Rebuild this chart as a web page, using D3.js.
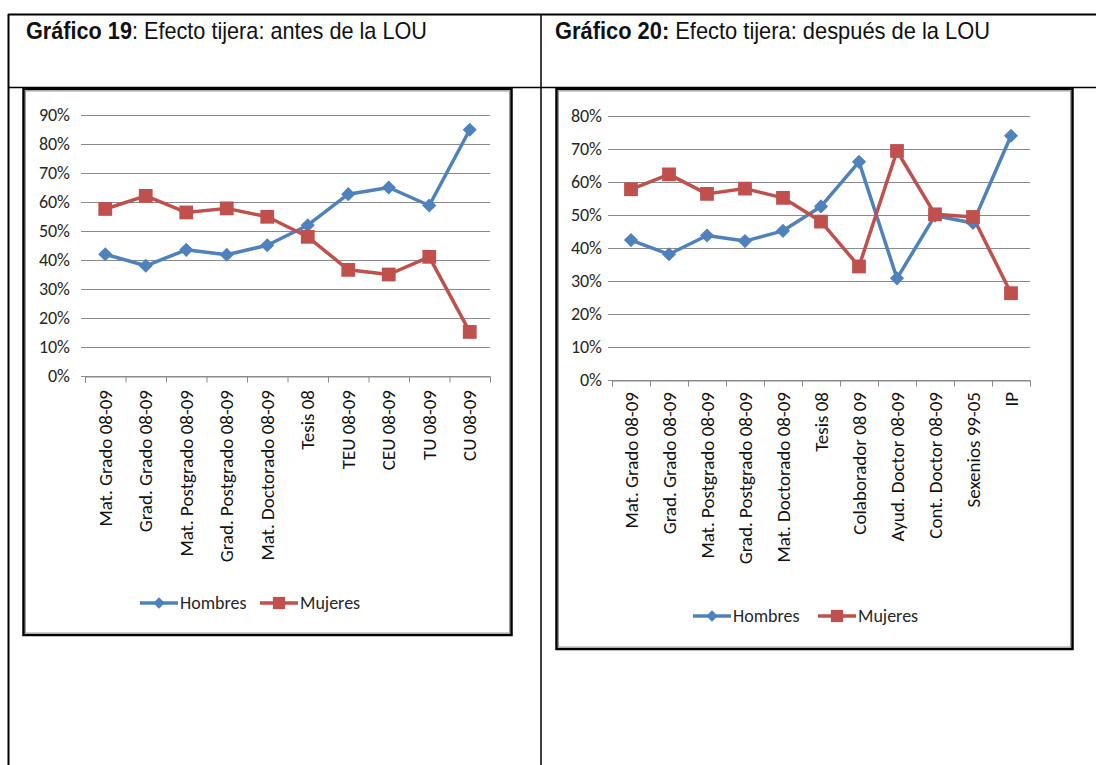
<!DOCTYPE html>
<html>
<head>
    <meta charset="utf-8">

    <!-- Load d3.js -->
    <script src="https://d3js.org/d3.v7.min.js"></script>

    <style>
        body{
            margin: 0;
            background: #fff;
        }
        .ctext{
            font-family: Carlito, Lato, "Open Sans", sans-serif;
            fill: #262626;
        }
        .title{
            font-family: "Liberation Sans Narrow", "Arial Narrow", "Liberation Sans", Arial, sans-serif;
            font-size: 24px;
            fill: #111;
        }
    </style>
</head>
<body>
<div id="my_dataviz"></div>
<script>

// Grafico 19: antes de la LOU
var cats19 = ["Mat. Grado 08-09", "Grad. Grado 08-09", "Mat. Postgrado 08-09", "Grad. Postgrado 08-09",
              "Mat. Doctorado 08-09", "Tesis 08", "TEU 08-09", "CEU 08-09", "TU 08-09", "CU 08-09"]
var hombres19 = [42.0, 38.0, 43.5, 41.8, 45.1, 52.0, 62.7, 65.0, 58.8, 84.9]
var mujeres19 = [57.6, 62.1, 56.4, 57.8, 54.9, 48.0, 36.6, 35.0, 41.1, 15.2]
var yTicks19 = [0, 10, 20, 30, 40, 50, 60, 70, 80, 90]

// Grafico 20: despues de la LOU
var cats20 = ["Mat. Grado 08-09", "Grad. Grado 08-09", "Mat. Postgrado 08-09", "Grad. Postgrado 08-09",
              "Mat. Doctorado 08-09", "Tesis 08", "Colaborador 08 09", "Ayud. Doctor 08-09",
              "Cont. Doctor 08-09", "Sexenios 99-05", "IP"]
var hombres20 = [42.4, 38.1, 43.8, 42.1, 45.2, 52.6, 66.1, 30.8, 49.8, 47.6, 74.0]
var mujeres20 = [57.8, 62.3, 56.4, 58.0, 55.2, 48.0, 34.4, 69.4, 50.2, 49.4, 26.3]
var yTicks20 = [0, 10, 20, 30, 40, 50, 60, 70, 80]

var seriesNames = ["Hombres", "Mujeres"]

var blue = "#4f81bd"
var red = "#c0504d"

var svg = d3.select("#my_dataviz")
    .append("svg")
    .attr("width", 1096)
    .attr("height", 765)

svg.append("rect").attr("width", 1096).attr("height", 765).attr("fill", "#fff")

// table frame of the document
var tbl = svg.append("g").attr("stroke", "#000")
tbl.append("line").attr("x1", 8).attr("x2", 1096).attr("y1", 14.5).attr("y2", 14.5).attr("stroke-width", 2)
tbl.append("line").attr("x1", 8.5).attr("x2", 8.5).attr("y1", 14).attr("y2", 765).attr("stroke-width", 2)
tbl.append("line").attr("x1", 541).attr("x2", 541).attr("y1", 14).attr("y2", 765).attr("stroke-width", 1.5)
tbl.append("line").attr("x1", 8).attr("x2", 1096).attr("y1", 87.5).attr("y2", 87.5).attr("stroke-width", 1.5)

// titles
function title(x, y, bold, rest, len) {
    var t = svg.append("text").attr("class", "title").attr("x", x).attr("y", y)
        .attr("textLength", len).attr("lengthAdjust", "spacingAndGlyphs")
    t.append("tspan").attr("font-weight", "bold").text(bold)
    t.append("tspan").text(rest)
}
title(26, 39, "Gráfico 19", ": Efecto tijera: antes de la LOU", 401)
title(555, 39, "Gráfico 20:", " Efecto tijera: después de la LOU", 435)

function drawChart(cfg) {
    var g = svg.append("g")

    // chart box (black frame with grey inner edge)
    g.append("rect").attr("x", cfg.box[0]).attr("y", cfg.box[1]).attr("width", cfg.box[2]).attr("height", cfg.box[3])
        .attr("fill", "#fff").attr("stroke", "#000").attr("stroke-width", 2.5)
    g.append("rect").attr("x", cfg.box[0] + 2).attr("y", cfg.box[1] + 2).attr("width", cfg.box[2] - 4).attr("height", cfg.box[3] - 4)
        .attr("fill", "none").attr("stroke", "#9a9a9a").attr("stroke-width", 1)

    var x = d3.scaleBand().domain(cfg.cats).range([cfg.left, cfg.right])
    var y = d3.scaleLinear().domain([0, d3.max(cfg.yTicks)]).range([cfg.bottom, cfg.top])

    // gridlines
    g.selectAll("grid").data(cfg.yTicks).enter().append("line")
        .attr("x1", cfg.left - 4).attr("x2", cfg.right)
        .attr("y1", function(d){ return Math.round(y(d)) + 0.5 })
        .attr("y2", function(d){ return Math.round(y(d)) + 0.5 })
        .attr("stroke", "#8a8a8a").attr("stroke-width", 1)

    // y labels
    g.selectAll("ylab").data(cfg.yTicks).enter().append("text")
        .attr("class", "ctext")
        .attr("x", cfg.left - cfg.labGap)
        .attr("y", function(d){ return y(d) })
        .attr("dy", "0.35em")
        .attr("text-anchor", "end")
        .style("font-size", "18px")
        .text(function(d){ return d + "%" })

    // x axis with ticks between categories
    var xi = d3.scaleLinear().domain([0, cfg.cats.length]).range([cfg.left, cfg.right])
    var ax = g.append("g")
        .attr("transform", "translate(0," + (Math.round(y(0)) + 0.5) + ")")
        .call(d3.axisBottom(xi).tickValues(d3.range(cfg.cats.length + 1)).tickFormat("").tickSize(6).tickSizeOuter(6))
    ax.selectAll("path, line").attr("stroke", "#8a8a8a")

    // category labels, rotated
    g.selectAll("xlab").data(cfg.cats).enter().append("text")
        .attr("class", "ctext")
        .attr("transform", function(d){ return "translate(" + (x(d) + x.bandwidth() / 2) + "," + (y(0) + cfg.xlabOff) + ") rotate(-90)" })
        .attr("dy", "0.35em")
        .attr("text-anchor", "end")
        .style("font-size", "19px")
        .style("fill", "#111")
        .text(function(d){ return d })

    var line = d3.line()
        .x(function(d, i){ return x(cfg.cats[i]) + x.bandwidth() / 2 })
        .y(function(d){ return y(d) })

    var series = [
        {name: seriesNames[0], values: cfg.hombres, color: blue, sym: "diamond"},
        {name: seriesNames[1], values: cfg.mujeres, color: red, sym: "square"}
    ]

    series.forEach(function(s) {
        g.append("path").datum(s.values)
            .attr("d", line)
            .attr("fill", "none")
            .attr("stroke", s.color)
            .attr("stroke-width", 3.5)
            .attr("stroke-linejoin", "round")
    })
    series.forEach(function(s) {
        g.selectAll("mk").data(s.values).enter().append("path")
            .attr("d", d3.symbol(d3.symbolSquare, s.sym == "diamond" ? 100 : 190))
            .attr("transform", function(d, i){
                return "translate(" + (x(cfg.cats[i]) + x.bandwidth() / 2) + "," + y(d) + ")" + (s.sym == "diamond" ? " rotate(45)" : "")
            })
            .attr("fill", s.color)
    })

    // legend
    series.forEach(function(s, i) {
        var lx = cfg.legend[i][0], ly = cfg.legend[1][1]
        g.append("line").attr("x1", lx).attr("x2", lx + 38).attr("y1", ly).attr("y2", ly)
            .attr("stroke", s.color).attr("stroke-width", 3.5)
        g.append("path")
            .attr("d", d3.symbol(d3.symbolSquare, s.sym == "diamond" ? 64 : 150))
            .attr("transform", "translate(" + (lx + 19) + "," + ly + ")" + (s.sym == "diamond" ? " rotate(45)" : ""))
            .attr("fill", s.color)
        g.append("text").attr("class", "ctext")
            .attr("x", lx + 40).attr("y", ly).attr("dy", "0.35em")
            .style("font-size", "18px")
            .text(s.name)
    })
}

drawChart({
    box: [23.5, 89, 488, 546],
    cats: cats19, hombres: hombres19, mujeres: mujeres19, yTicks: yTicks19,
    left: 85, right: 490, top: 115, bottom: 376,
    labGap: 15, xlabOff: 14,
    legend: [[140, 603], [260, 603]]
})

drawChart({
    box: [556.5, 89, 516, 560],
    cats: cats20, hombres: hombres20, mujeres: mujeres20, yTicks: yTicks20,
    left: 612, right: 1030, top: 116, bottom: 380,
    labGap: 10, xlabOff: 12,
    legend: [[693, 616], [818, 616]]
})

</script>
</body>
</html>
